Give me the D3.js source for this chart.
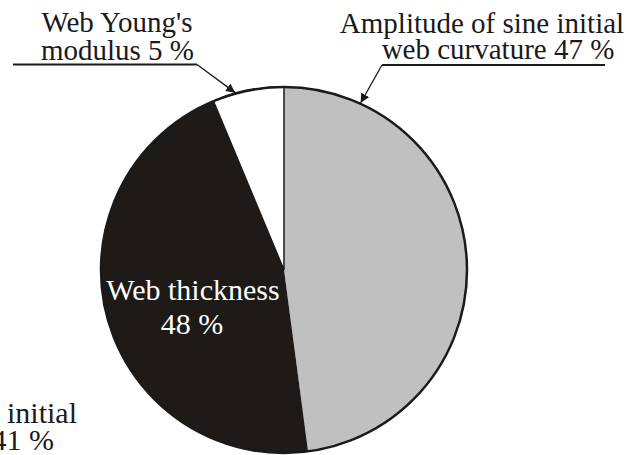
<!DOCTYPE html>
<html><head><meta charset="utf-8">
<script src="https://cdn.jsdelivr.net/npm/d3@7"></script>
<style>body{margin:0;background:#fff}svg{display:block}</style>
</head><body><svg id="c" width="639" height="455"></svg>
<script>
// Slice categories and values (angles), label texts as printed
const categories = ["Amplitude of sine initial web curvature", "Web thickness", "Web Young's modulus"];
const sliceValues = [47.9, 45.8, 6.3];
const printedPercents = ["47 %", "48 %", "5 %"];
const sliceColors = ["#c0c0c0", "#1e1a17", "#ffffff"];

const FONT = "'Liberation Serif', 'DejaVu Serif', 'Times New Roman', Times, serif";
const svg = d3.select("#c").style("font-family", FONT);
const cx = 284, cy = 270, R = 183;
const pie = d3.pie().sort(null).value(d => d)(sliceValues);
const arc = d3.arc().innerRadius(0).outerRadius(R);
const g = svg.append("g").attr("transform", `translate(${cx},${cy})`);
g.selectAll("path.slice").data(pie).join("path")
  .attr("class", "slice")
  .attr("d", arc)
  .attr("fill", (d, i) => sliceColors[i])
  .attr("stroke", (d, i) => i === 2 ? "#1a1a1a" : "none")
  .attr("stroke-width", 1.5);
g.append("circle").attr("r", R).attr("fill", "none").attr("stroke", "#1a1a1a").attr("stroke-width", 2.5);

const defs = svg.append("defs");
defs.append("marker").attr("id", "ah").attr("viewBox", "0 0 10 10").attr("refX", 10).attr("refY", 5)
  .attr("markerWidth", 9).attr("markerHeight", 9).attr("markerUnits", "userSpaceOnUse").attr("orient", "auto")
  .append("path").attr("d", "M0,0 L10,5 L0,10 z").attr("fill", "#1a1a1a");

function rim(angle) { return [cx + (R + 1) * Math.sin(angle), cy - (R + 1) * Math.cos(angle)]; }
const tipW = rim(pie[2].startAngle + (pie[2].endAngle - pie[2].startAngle) * 0.32);
const tipG = rim(0.43);

const fs = 29;
function txt(x, y, s, opts = {}) {
  return svg.append("text").attr("x", x).attr("y", y)
    .attr("text-anchor", opts.anchor || "middle")
    .attr("font-size", opts.size || fs)
    .attr("font-family", FONT)
    .attr("fill", opts.fill || "#1a1a1a").text(s);
}
// Left label
txt(117, 32, "Web Young's");
txt(117.5, 60, "modulus " + printedPercents[2]);
svg.append("line").attr("x1", 13).attr("y1", 64.5).attr("x2", 197).attr("y2", 64.5).attr("stroke", "#1a1a1a").attr("stroke-width", 2);
svg.append("line").attr("x1", 197).attr("y1", 64.5).attr("x2", tipW[0]).attr("y2", tipW[1]).attr("stroke", "#1a1a1a").attr("stroke-width", 1.3).attr("marker-end", "url(#ah)");

// Right label
txt(482, 33, "Amplitude of sine initial");
txt(498, 59, "web curvature " + printedPercents[0]);
svg.append("line").attr("x1", 382).attr("y1", 65).attr("x2", 605).attr("y2", 65).attr("stroke", "#1a1a1a").attr("stroke-width", 2);
svg.append("line").attr("x1", 382).attr("y1", 65).attr("x2", tipG[0]).attr("y2", tipG[1]).attr("stroke", "#1a1a1a").attr("stroke-width", 1.3).attr("marker-end", "url(#ah)");

// Inside label
txt(193, 300, categories[1], { size: 30, fill: "#ffffff" });
txt(192, 334, printedPercents[1], { size: 30, fill: "#ffffff" });

// Cut-off label from neighbouring figure
txt(77, 423, "initial", { anchor: "end", size: 30 });
txt(54, 450, "41 %", { anchor: "end", size: 30 });
</script></body></html>
